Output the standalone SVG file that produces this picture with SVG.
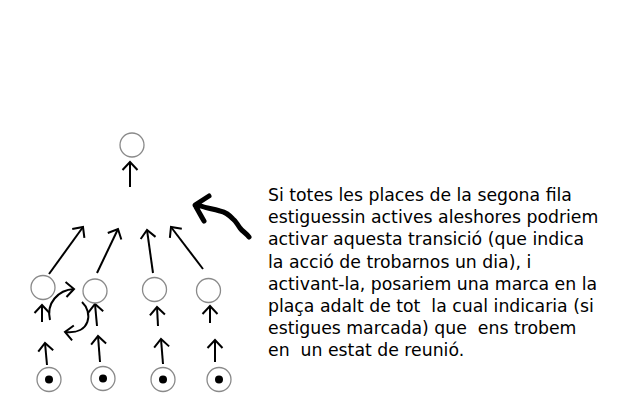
<svg xmlns="http://www.w3.org/2000/svg" width="640" height="400" viewBox="0 0 640 400">
<style>
.place{fill:#fff;stroke:#8a8a8a;stroke-width:1.3}
.tok{fill:#000}
.arc{fill:none;stroke:#000;stroke-width:2;marker-end:url(#ah)}
.hand{fill:none;stroke:#000;stroke-width:5;stroke-linecap:round;stroke-linejoin:round}
.txt{font-family:"DejaVu Sans",sans-serif;font-size:17.3px;fill:#000;white-space:pre}
</style>
<defs>
<marker id="ah" markerUnits="userSpaceOnUse" markerWidth="24" markerHeight="24" viewBox="-12 -12 24 24" refX="0" refY="0" orient="auto">
<path d="M-8,-7.5 L0,0 L-8,7.5" fill="none" stroke="#000" stroke-width="2"/>
</marker>
</defs>
<rect width="640" height="400" fill="#fff"/>
<g id="connectors">
<path class="arc" d="M130,187 L130,162"/>
<path class="arc" d="M49,274 L83,227"/>
<path class="arc" d="M97,273 L118,229"/>
<path class="arc" d="M153,273 L147,230"/>
<path class="arc" d="M203,269 L171,227"/>
<path class="arc" d="M42,322 L42,305"/>
<path class="arc" d="M97,326 L95,304"/>
<path class="arc" d="M158,326 L157,307"/>
<path class="arc" d="M210,323 L210,306"/>
<path class="arc" d="M47,365 L45,343"/>
<path class="arc" d="M100,362 L98,336"/>
<path class="arc" d="M163,364 L161,339"/>
<path class="arc" d="M215,362 L215,340"/>
<path class="arc" d="M50,320 C46,303 58,290 74,289"/>
<path class="arc" d="M82,302 C93,312 91,335 65,332"/>
<path class="hand" d="M249,237 C246,233 242,231 240,228 C237,224 236,221 233,219 C229,215 226,212 220,211 C213,209 207,208 204,207 C201,206 198,205 195,205 L209,196 M196,207 C199,212 201,216 204,221"/>
</g>
<g id="p_top"><circle class="place" cx="132" cy="145" r="12"/></g>
<g id="p_r2_1"><circle class="place" cx="43" cy="287.5" r="12"/></g>
<g id="p_r2_2"><circle class="place" cx="95" cy="291" r="12"/></g>
<g id="p_r2_3"><circle class="place" cx="154.5" cy="289.5" r="12"/></g>
<g id="p_r2_4"><circle class="place" cx="208.5" cy="290.5" r="12"/></g>
<g id="p_b1"><circle class="place" cx="49" cy="379.5" r="12"/><circle class="tok" cx="49" cy="379.5" r="4"/></g>
<g id="p_b2"><circle class="place" cx="103" cy="378.5" r="12"/><circle class="tok" cx="103" cy="378.5" r="4"/></g>
<g id="p_b3"><circle class="place" cx="163" cy="379.5" r="12"/><circle class="tok" cx="163" cy="379.5" r="4"/></g>
<g id="p_b4"><circle class="place" cx="219" cy="379.5" r="12"/><circle class="tok" cx="219" cy="379.5" r="4"/></g>
<g id="note">
<text class="txt" x="268" y="201">Si totes les places de la segona fila</text>
<text class="txt" x="268" y="223.2">estiguessin actives aleshores podriem</text>
<text class="txt" x="268" y="245.4">activar aquesta transició (que indica</text>
<text class="txt" x="268" y="267.6">la acció de trobarnos un dia), i</text>
<text class="txt" x="268" y="289.8">activant-la, posariem una marca en la</text>
<text class="txt" x="268" y="312">plaça adalt de tot  la cual indicaria (si</text>
<text class="txt" x="268" y="334.2">estigues marcada) que  ens trobem</text>
<text class="txt" x="268" y="356.4">en  un estat de reunió.</text>
</g>
</svg>
